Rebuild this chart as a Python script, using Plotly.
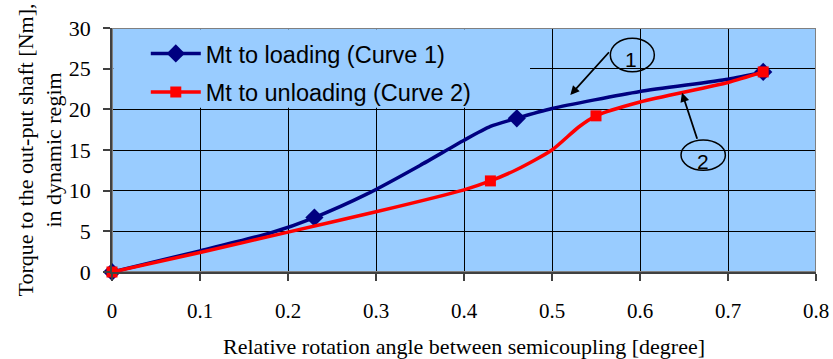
import plotly.graph_objects as go

# Loading branch (Curve 1): relative rotation angle [deg] vs torque [Nm]
angle_loading = [0.0, 0.10, 0.18, 0.23, 0.29, 0.35, 0.40, 0.43, 0.46, 0.50, 0.60, 0.70, 0.74]
torque_loading = [0.0, 2.6, 4.8, 6.7, 9.6, 13.1, 16.2, 17.9, 18.9, 20.1, 22.2, 23.7, 24.6]
marked_loading = [1, 0, 0, 1, 0, 0, 0, 0, 1, 0, 0, 0, 1]

# Unloading branch (Curve 2)
angle_unloading = [0.0, 0.10, 0.20, 0.30, 0.40, 0.43, 0.46, 0.50, 0.53, 0.55, 0.60, 0.70, 0.74]
torque_unloading = [0.0, 2.4, 4.9, 7.4, 10.1, 11.2, 12.6, 15.0, 17.8, 19.2, 20.9, 23.3, 24.6]
marked_unloading = [1, 0, 0, 0, 0, 1, 0, 0, 0, 1, 0, 0, 1]

series_names = ["Mt to loading (Curve 1)", "Mt to unloading (Curve 2)"]
x_ticks = [0, 0.1, 0.2, 0.3, 0.4, 0.5, 0.6, 0.7, 0.8]
y_ticks = [0, 5, 10, 15, 20, 25, 30]

NAVY = "#000080"
RED = "#FF0000"
PLOT_BG = "#99CCFF"
SERIF = "Liberation Serif"
SANS = "Liberation Sans"


def marker_colors(flags, color):
    return [color if f else "rgba(0,0,0,0)" for f in flags]


fig = go.Figure()
fig.add_trace(go.Scatter(
    x=angle_loading, y=torque_loading, name=series_names[0],
    mode="lines+markers", legendgroup="g1", cliponaxis=False,
    line=dict(color=NAVY, width=3.5, shape="spline", smoothing=0.6),
    marker=dict(symbol="diamond", size=14, color=marker_colors(marked_loading, NAVY),
                line=dict(width=0)),
))
fig.add_trace(go.Scatter(
    x=angle_unloading, y=torque_unloading, name=series_names[1],
    mode="lines+markers", legendgroup="g2", cliponaxis=False,
    line=dict(color=RED, width=3.5, shape="spline", smoothing=0.6),
    marker=dict(symbol="square", size=11, color=marker_colors(marked_unloading, RED),
                line=dict(width=0)),
))

shapes = [
    # legend panel: hides the grid behind the legend entries
    dict(type="rect", xref="x", yref="y", x0=0.0015, x1=0.475, y0=20.2, y1=29.85,
         fillcolor=PLOT_BG, line=dict(width=0), layer="between"),
    # plot frame
    dict(type="rect", xref="x", yref="y", x0=0, x1=0.8, y0=0, y1=30,
         line=dict(color="#808080", width=2), layer="between"),
    # curve callouts
    dict(type="circle", xref="x", yref="y", x0=0.5663, x1=0.6163, y0=24.63, y1=28.74,
         line=dict(color="black", width=1.5), layer="above"),
    dict(type="circle", xref="x", yref="y", x0=0.6466, x1=0.6970, y0=12.52, y1=16.22,
         line=dict(color="black", width=1.5), layer="above"),
]

annotations = [
    dict(x=0.5208, y=21.76, ax=0.5663, ay=27.2, xref="x", yref="y", axref="x", ayref="y",
         text="", showarrow=True, arrowhead=2, arrowsize=1, arrowwidth=1.8, arrowcolor="black",
         standoff=0),
    dict(x=0.6477, y=22.04, ax=0.6655, ay=16.2, xref="x", yref="y", axref="x", ayref="y",
         text="", showarrow=True, arrowhead=2, arrowsize=1, arrowwidth=1.8, arrowcolor="black",
         standoff=0),
    dict(x=0.5893, y=26.1, xref="x", yref="y", text="1", showarrow=False,
         font=dict(family=SANS, size=21, color="black")),
    dict(x=0.6720, y=13.6, xref="x", yref="y", text="2", showarrow=False,
         font=dict(family=SANS, size=21, color="black")),
]

axis_common = dict(
    showgrid=True, gridcolor="black", gridwidth=1, zeroline=False,
    showline=True, linecolor="#404040", linewidth=1.5,
    ticks="outside", ticklen=7, tickcolor="#404040", tickwidth=1.5,
    automargin=False,
)

fig.update_layout(
    width=833, height=359,
    margin=dict(l=112, r=17, t=28, b=87),
    paper_bgcolor="white", plot_bgcolor=PLOT_BG,
    xaxis=dict(range=[0, 0.8], tickvals=x_ticks, ticktext=[f"{v:g}" for v in x_ticks],
               ticklabelstandoff=12,
               tickfont=dict(family=SERIF, size=21, color="black"),
               title=dict(text="Relative rotation angle between semicoupling [degree]",
                          font=dict(family=SERIF, size=22, color="black"), standoff=18),
               **axis_common),
    yaxis=dict(range=[0, 30], tickvals=y_ticks, ticklabelstandoff=8,
               tickfont=dict(family=SERIF, size=22, color="black"),
               title=dict(text="Torque to the out-put shaft [Nm],<br>in dynamic regim",
                          font=dict(family=SERIF, size=22, color="black"), standoff=1),
               **axis_common),
    legend=dict(x=0.048, y=0.985, xanchor="left", yanchor="top",
                bgcolor="rgba(0,0,0,0)", borderwidth=0, itemwidth=50,
                traceorder="grouped", tracegroupgap=5,
                font=dict(family=SANS, size=23.5, color="black")),
    shapes=shapes,
    annotations=annotations,
    showlegend=True,
)

fig.write_html("out.html")
